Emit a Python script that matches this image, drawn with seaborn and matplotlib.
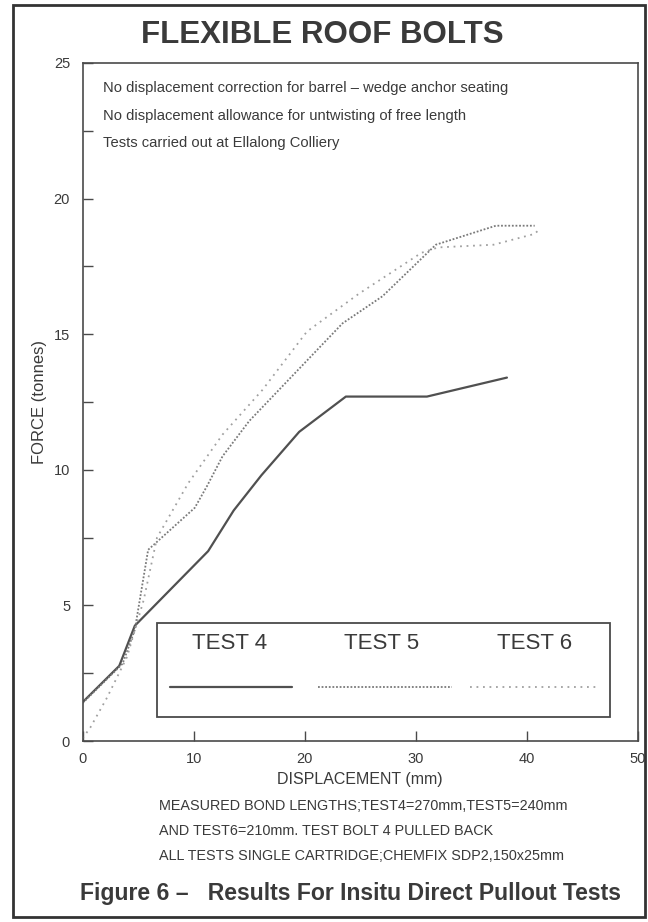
import numpy as np
import pandas as pd
import matplotlib
matplotlib.use("Agg")
import matplotlib.pyplot as plt
import seaborn as sns
from matplotlib.lines import Line2D
from matplotlib.patches import Rectangle

# ---- data ----
test4_x = [0, 3.3, 4.7, 11.3, 13.6, 16.1, 19.5, 23.7, 31.0, 38.2]
test4_y = [1.43, 2.77, 4.25, 7.0, 8.5, 9.8, 11.4, 12.7, 12.7, 13.4]

test5_x = [0, 3.6, 4.7, 5.9, 10.1, 11.2, 12.6, 15.0, 23.4, 27.0, 31.8, 37.2, 40.7]
test5_y = [1.4, 2.85, 4.1, 7.05, 8.6, 9.4, 10.5, 11.8, 15.4, 16.4, 18.3, 19.0, 19.0]

test6_x = [0, 0.7, 2.2, 4.0, 5.5, 6.7, 9.5, 12.6, 16.2, 20.2, 24.9, 30.5, 32.0, 37.0, 40.7, 41.2]
test6_y = [0.1, 0.5, 1.6, 3.1, 5.2, 7.5, 9.5, 11.3, 12.95, 15.1, 16.5, 18.0, 18.2, 18.3, 18.7, 18.9]

series_names = ["TEST 4", "TEST 5", "TEST 6"]
x_ticks = [0, 10, 20, 30, 40, 50]
y_ticks = [0, 5, 10, 15, 20, 25]

notes_top = ["No displacement correction for barrel \u2013 wedge anchor seating",
             "No displacement allowance for untwisting of free length",
             "Tests carried out at Ellalong Colliery"]
notes_bottom = ["MEASURED BOND LENGTHS;TEST4=270mm,TEST5=240mm",
                "AND TEST6=210mm. TEST BOLT 4 PULLED BACK",
                "ALL TESTS SINGLE CARTRIDGE;CHEMFIX SDP2,150x25mm"]

# ---- styling ----
sns.set_theme(style="ticks")
plt.rcParams['font.family'] = ['Liberation Sans', 'DejaVu Sans']
TXT = "#3a3a3a"
SP = "#4a4a4a"

styles = {
    "TEST 4": dict(color="#505050", lw=1.6, ls="-"),
    "TEST 5": dict(color="#7a7a7a", lw=1.3, ls=(0, (1, 1))),
    "TEST 6": dict(color="#a0a0a0", lw=1.3, ls=(0, (1, 2.6))),
}

frames = []
for name, xs, ys in zip(series_names, [test4_x, test5_x, test6_x], [test4_y, test5_y, test6_y]):
    frames.append(pd.DataFrame({"x": xs, "y": ys, "test": name}))
df = pd.concat(frames, ignore_index=True)

fig = plt.figure(figsize=(6.48, 9.22), dpi=100)
fig.patch.set_facecolor("white")
ax = fig.add_axes([82.6/648, 1-741/922, (638-82.6)/648, (741-63)/922])

for name in series_names:
    st = styles[name]
    sns.lineplot(data=df[df.test == name], x="x", y="y", ax=ax, sort=False,
                 estimator=None, color=st["color"], linewidth=st["lw"],
                 linestyle=st["ls"], legend=False)

ax.set_xlim(0, 50)
ax.set_ylim(0, 25)
ax.set_xticks(x_ticks)
ax.set_yticks(y_ticks)
ax.set_yticks(np.arange(2.5, 25, 5), minor=True)
ax.tick_params(axis="both", which="both", direction="in", length=7, width=1.0,
               color=SP, labelcolor=TXT, labelsize=10.5)
ax.tick_params(axis="y", pad=9)
ax.tick_params(axis="x", pad=8)
for s in ax.spines.values():
    s.set_visible(True)
    s.set_color(SP)
    s.set_linewidth(1.2)
ax.set_xlabel("DISPLACEMENT (mm)", fontsize=11.5, color=TXT, labelpad=4)
ax.set_ylabel("FORCE (tonnes)", fontsize=12, color=TXT, labelpad=5)

# notes inside plot
for i, t in enumerate(notes_top):
    ax.text(0.0367, 0.963 - i*0.0405, t, transform=ax.transAxes, fontsize=10.6,
            color=TXT, va="center", ha="left")

# custom legend box
ax.add_patch(Rectangle((0.134, 0.0354), 0.9496-0.134, 0.174-0.0354,
                       transform=ax.transAxes, fill=False, edgecolor=SP, lw=1.3))
text_x = [0.2655, 0.5385, 0.8145]
line_x = [(0.1577, 0.3765), (0.424, 0.6645), (0.6975, 0.9257)]
for name, tx, (x0, x1) in zip(series_names, text_x, line_x):
    st = styles[name]
    ax.text(tx, 0.1445, name, transform=ax.transAxes, fontsize=16, color=TXT,
            ha="center", va="center")
    ax.add_line(Line2D([x0, x1], [0.0796, 0.0796], transform=ax.transAxes,
                       color=st["color"], lw=st["lw"], ls=st["ls"]))

# title and captions
fig.text(0.497, 1-35/922, "FLEXIBLE ROOF BOLTS", fontsize=22.5, fontweight="bold",
         color=TXT, ha="center", va="center")
for i, t in enumerate(notes_bottom):
    fig.text(159/648, 1-(806+25*i)/922, t, fontsize=10.4, color=TXT, ha="left", va="center")
fig.text(80/648, 1-893/922, "Figure 6 \u2013   Results For Insitu Direct Pullout Tests",
         fontsize=16.6, fontweight="bold", color=TXT, ha="left", va="center")

# figure frame
fig.patches.append(Rectangle((13/648, 5/922), (645-13)/648, (917-5)/922,
                             transform=fig.transFigure, fill=False,
                             edgecolor="#333333", lw=2.0))

fig.savefig("out.png", dpi=100)
